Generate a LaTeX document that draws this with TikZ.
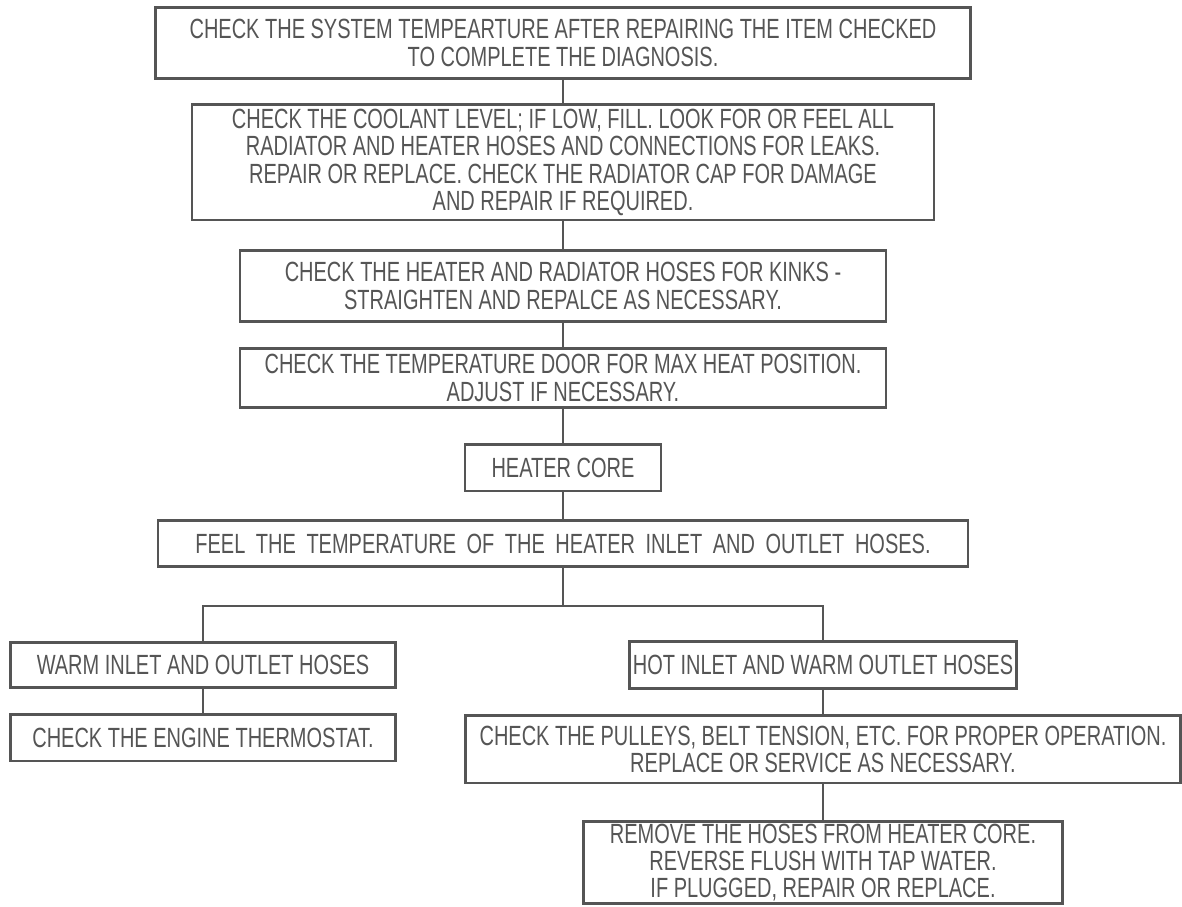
\documentclass[tikz,border=0pt]{standalone}
\usepackage{fontspec}
\setmainfont{Liberation Sans}[FakeStretch=0.72]
\newfontfamily\widefont{Liberation Sans}[FakeStretch=0.72, WordSpace=1.9]
\usepackage{tikz}
\usetikzlibrary{positioning}
\definecolor{inkgray}{HTML}{555555}
\definecolor{textgray}{HTML}{555555}

\begin{document}
\begin{tikzpicture}[
  node distance=0.5cm,
  box/.style={rectangle, draw=inkgray, line width=1.6pt, text=textgray,
              align=center, inner xsep=2pt, inner ysep=0pt,
              font=\fontsize{15.8}{15.6}\selectfont},
  wide/.style={font=\fontsize{15.8}{15.6}\widefont},
  link/.style={draw=inkgray, line width=1.1pt}
]
\useasboundingbox (0,0) rectangle (23.64,-18.12);

% main column
\node[box, minimum width=16.3cm, minimum height=1.43cm] (sys) at (11.26,-0.86)
  {CHECK THE SYSTEM TEMPEARTURE AFTER REPAIRING THE ITEM CHECKED\\TO COMPLETE THE DIAGNOSIS.};
\node[box, below=0.46cm of sys, minimum width=14.84cm, minimum height=2.31cm] (coolant)
  {CHECK THE COOLANT LEVEL; IF LOW, FILL. LOOK FOR OR FEEL ALL\\
   RADIATOR AND HEATER HOSES AND CONNECTIONS FOR LEAKS.\\
   REPAIR OR REPLACE. CHECK THE RADIATOR CAP FOR DAMAGE\\
   AND REPAIR IF REQUIRED.};
\node[box, below=0.56cm of coolant, minimum width=12.92cm, minimum height=1.41cm] (kinks)
  {CHECK THE HEATER AND RADIATOR HOSES FOR KINKS -\\STRAIGHTEN AND REPALCE AS NECESSARY.};
\node[box, below=0.48cm of kinks, minimum width=12.92cm, minimum height=1.19cm] (door)
  {CHECK THE TEMPERATURE DOOR FOR MAX HEAT POSITION.\\ADJUST IF NECESSARY.};
\node[box, below=0.68cm of door, minimum width=3.92cm, minimum height=0.93cm] (core)
  {HEATER CORE};
\node[box, wide, below=0.54cm of core, minimum width=16.2cm, minimum height=0.91cm] (feel)
  {FEEL THE TEMPERATURE OF THE HEATER INLET AND OUTLET HOSES.};
\coordinate[below=0.76cm of feel] (split);

% left branch
\node[box, anchor=north, minimum width=7.7cm, minimum height=0.91cm] (warm)
  at ([xshift=-7.2cm, yshift=-1.46cm]feel.south) {WARM INLET AND OUTLET HOSES};
\node[box, below=0.48cm of warm, minimum width=7.7cm, minimum height=0.93cm] (thermo)
  {CHECK THE ENGINE THERMOSTAT.};

% right branch
\node[box, anchor=north, minimum width=7.68cm, minimum height=0.95cm] (hot)
  at ([xshift=5.2cm, yshift=-1.44cm]feel.south) {HOT INLET AND WARM OUTLET HOSES};
\node[box, below=0.48cm of hot, minimum width=14.3cm, minimum height=1.35cm] (pulley)
  {CHECK THE PULLEYS, BELT TENSION, ETC. FOR PROPER OPERATION.\\REPLACE OR SERVICE AS NECESSARY.};
\node[box, below=0.72cm of pulley, minimum width=9.58cm, minimum height=1.63cm] (flush)
  {REMOVE THE HOSES FROM HEATER CORE.\\REVERSE FLUSH WITH TAP WATER.\\IF PLUGGED, REPAIR OR REPLACE.};

\draw[link] (sys) -- (coolant);
\draw[link] (coolant) -- (kinks);
\draw[link] (kinks) -- (door);
\draw[link] (door) -- (core);
\draw[link] (core) -- (feel);
\draw[link] (feel) -- (split);
\draw[link] (warm.north) |- (split) -| (hot.north);
\draw[link] (warm) -- (thermo);
\draw[link] (hot) -- (pulley);
\draw[link] (pulley) -- (flush);

\end{tikzpicture}
\end{document}
